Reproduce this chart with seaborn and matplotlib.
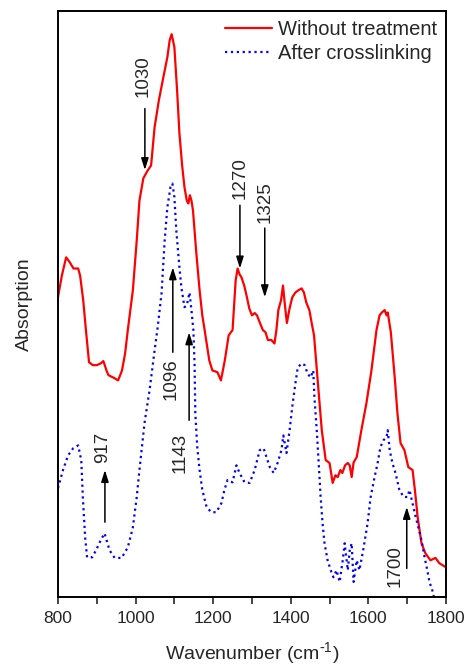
import numpy as np
import pandas as pd
import matplotlib
matplotlib.use("Agg")
import matplotlib.pyplot as plt
import seaborn as sns

# ------------------------------------------------------------
# Data (arbitrary absorption units)
# ------------------------------------------------------------
wn_raw = [800, 810, 821, 830, 840, 852, 857, 865, 872, 880, 890, 900, 910, 917, 925,
          930, 945, 955, 965, 973, 980, 993, 1003, 1010, 1020, 1030, 1040, 1049, 1060,
          1070, 1082, 1088, 1093, 1100, 1107, 1113, 1120, 1126, 1132, 1136, 1140, 1144,
          1148, 1156, 1165, 1172, 1178, 1190, 1198, 1211, 1220, 1230, 1240, 1250, 1258,
          1263, 1268, 1273, 1280, 1287, 1293, 1300, 1307, 1313, 1320, 1328, 1335, 1341,
          1350, 1358, 1363, 1368, 1375, 1380, 1385, 1390, 1397, 1404, 1412, 1420, 1428,
          1434, 1440, 1448, 1455, 1460, 1470, 1480, 1490, 1500, 1505, 1508, 1515, 1521,
          1528, 1533, 1540, 1547, 1552, 1557, 1562, 1570, 1582, 1595, 1608, 1621, 1629,
          1635, 1642, 1647, 1650, 1654, 1658, 1668, 1675, 1683, 1693, 1703, 1714, 1720,
          1727, 1737, 1747, 1760, 1773, 1783, 1800]
abs_raw = [0.512, 0.549, 0.580, 0.572, 0.561, 0.561, 0.549, 0.507, 0.456, 0.401, 0.396,
           0.396, 0.399, 0.403, 0.387, 0.379, 0.374, 0.370, 0.387, 0.416, 0.456, 0.524,
           0.609, 0.677, 0.715, 0.727, 0.737, 0.802, 0.848, 0.882, 0.922, 0.951, 0.961,
           0.939, 0.865, 0.792, 0.737, 0.700, 0.677, 0.672, 0.686, 0.677, 0.660, 0.592,
           0.524, 0.481, 0.456, 0.404, 0.387, 0.384, 0.370, 0.404, 0.447, 0.456, 0.541,
           0.561, 0.551, 0.546, 0.532, 0.512, 0.493, 0.481, 0.485, 0.481, 0.469, 0.456,
           0.452, 0.439, 0.439, 0.433, 0.456, 0.490, 0.507, 0.532, 0.498, 0.468, 0.493,
           0.512, 0.520, 0.524, 0.527, 0.520, 0.503, 0.490, 0.464, 0.447, 0.365, 0.285,
           0.234, 0.229, 0.208, 0.195, 0.208, 0.205, 0.217, 0.212, 0.225, 0.229, 0.225,
           0.205, 0.230, 0.239, 0.285, 0.331, 0.387, 0.456, 0.481, 0.486, 0.490, 0.481,
           0.486, 0.469, 0.452, 0.375, 0.314, 0.263, 0.251, 0.222, 0.217, 0.183, 0.137,
           0.092, 0.075, 0.063, 0.067, 0.058, 0.051]

wn_xl = [800, 813, 826, 839, 852, 860, 864, 870, 875, 888, 898, 910, 920, 933, 946, 964,
         980, 993, 1003, 1010, 1023, 1036, 1049, 1057, 1067, 1075, 1082, 1090, 1095, 1100,
         1105, 1113, 1118, 1126, 1132, 1139, 1144, 1149, 1152, 1154, 1159, 1165, 1172,
         1183, 1195, 1208, 1221, 1229, 1237, 1250, 1260, 1268, 1281, 1294, 1307, 1320,
         1330, 1346, 1356, 1366, 1376, 1381, 1389, 1397, 1405, 1412, 1418, 1428, 1436,
         1443, 1451, 1458, 1461, 1467, 1472, 1477, 1482, 1487, 1495, 1503, 1510, 1518,
         1526, 1534, 1539, 1547, 1552, 1557, 1562, 1570, 1577, 1588, 1598, 1606, 1616,
         1624, 1631, 1639, 1647, 1650, 1655, 1662, 1670, 1680, 1691, 1701, 1706, 1714,
         1722, 1729, 1737, 1745, 1752, 1758, 1763, 1768, 1775]
abs_xl = [0.186, 0.217, 0.242, 0.254, 0.259, 0.234, 0.171, 0.102, 0.068, 0.068, 0.080,
          0.097, 0.109, 0.080, 0.067, 0.067, 0.085, 0.119, 0.171, 0.217, 0.297, 0.353,
          0.421, 0.461, 0.519, 0.609, 0.666, 0.700, 0.706, 0.683, 0.626, 0.563, 0.529,
          0.495, 0.498, 0.520, 0.490, 0.456, 0.399, 0.314, 0.256, 0.217, 0.183, 0.154,
          0.145, 0.145, 0.160, 0.183, 0.200, 0.196, 0.225, 0.212, 0.196, 0.195, 0.217,
          0.251, 0.254, 0.222, 0.212, 0.229, 0.251, 0.276, 0.246, 0.285, 0.331, 0.365,
          0.392, 0.399, 0.396, 0.382, 0.375, 0.387, 0.341, 0.285, 0.229, 0.171, 0.126,
          0.092, 0.063, 0.046, 0.034, 0.046, 0.026, 0.063, 0.092, 0.046, 0.080, 0.092,
          0.026, 0.063, 0.046, 0.085, 0.126, 0.171, 0.205, 0.229, 0.256, 0.268, 0.273,
          0.285, 0.251, 0.229, 0.212, 0.183, 0.171, 0.171, 0.183, 0.160, 0.137, 0.119,
          0.097, 0.068, 0.046, 0.024, 0.017, 0.003, -0.014]

# peak labels: arrow x, tail y, head y, and where the rotated text sits
peak_labels = ["1030", "1270", "1325", "1096", "1143", "917", "1700"]
peak_x      = [1024, 1269, 1333, 1096, 1138, 921, 1699]
tail_y      = [0.834, 0.669, 0.630, 0.418, 0.302, 0.128, 0.049]
head_y      = [0.729, 0.561, 0.512, 0.563, 0.452, 0.217, 0.154]
text_x      = [1019, 1269, 1333, 1091, 1114, 916, 1668]
text_y      = [0.889, 0.715, 0.674, 0.372, 0.246, 0.256, 0.053]

df_raw = pd.DataFrame({"wn": wn_raw, "a": abs_raw})
df_xl = pd.DataFrame({"wn": wn_xl, "a": abs_xl})

# ------------------------------------------------------------
# Plot
# ------------------------------------------------------------
sns.set_style("ticks")
plt.rcParams['font.family'] = ['Liberation Sans', 'DejaVu Sans']

fig = plt.figure(figsize=(4.65, 6.65), dpi=100)
ax = fig.add_axes([0.1247, 0.102, 0.8343, 0.881])

sns.lineplot(data=df_raw, x="wn", y="a", ax=ax, color="#ff0000", lw=1.6,
             label="Without treatment")
sns.lineplot(data=df_xl, x="wn", y="a", ax=ax, color="#0000ff", lw=1.6,
             linestyle=":", label="After crosslinking")

for lab, px, ty, hy, tx, tyy in zip(peak_labels, peak_x, tail_y, head_y, text_x, text_y):
    ax.annotate("", xy=(px, hy), xytext=(px, ty),
                arrowprops=dict(arrowstyle="-|>,head_length=0.7,head_width=0.22",
                                color="black", lw=1.1, shrinkA=0, shrinkB=0))
    ax.text(tx, tyy, lab, rotation=90, ha="center", va="center", fontsize=13.5)

ax.set_xlim(800, 1800)
ax.set_ylim(0, 1)
ax.set_xticks(np.arange(800, 1801, 200))
ax.set_xticks(np.arange(900, 1800, 200), minor=True)
ax.set_yticks([])
ax.tick_params(axis="x", which="major", direction="out", length=5, width=1.2,
               labelsize=12.5, pad=5)
ax.tick_params(axis="x", which="minor", direction="out", length=5, width=1.2)
for s in ax.spines.values():
    s.set_linewidth(1.4)
    s.set_color("black")

ax.set_xlabel("Wavenumber (cm$^{\\text{-}\\mathregular{1}}$)", fontsize=14, labelpad=10)
ax.set_ylabel("Absorption", fontsize=14, labelpad=18)

ax.legend(loc="upper right", frameon=False, fontsize=14.5, handlelength=2.3,
          handletextpad=0.3, borderaxespad=0.05, labelspacing=0.25)

fig.savefig("out.png", dpi=100)
